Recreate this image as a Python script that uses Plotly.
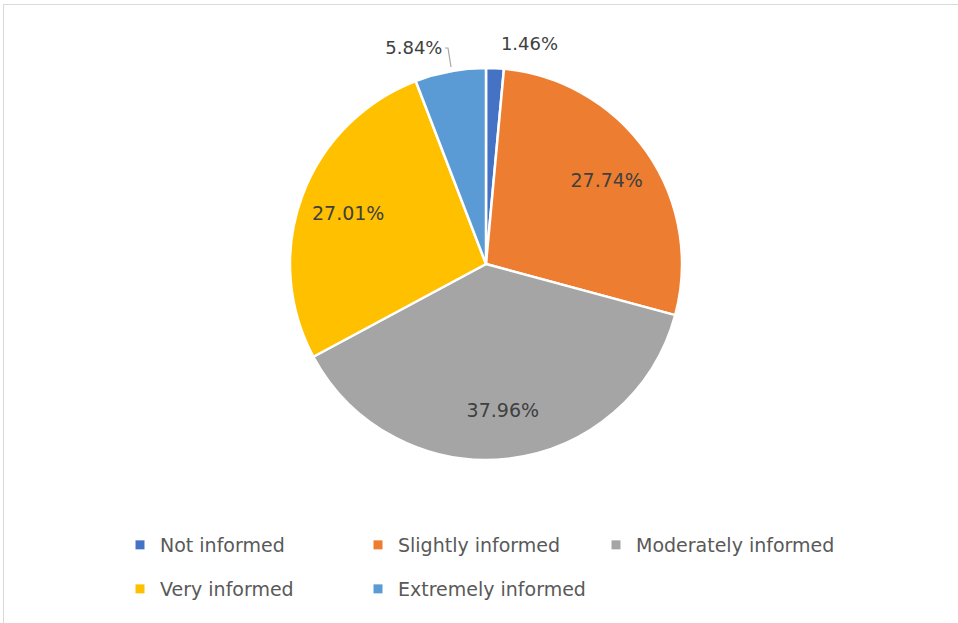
import plotly.graph_objects as go

categories = ["Not informed", "Slightly informed", "Moderately informed", "Very informed", "Extremely informed"]
values = [1.46, 27.74, 37.96, 27.01, 5.84]
colors = ["#4472C4", "#ED7D31", "#A5A5A5", "#FFC000", "#5B9BD5"]
inside_positions = ["none", "inside", "inside", "inside", "none"]
outside_positions = ["outside", "none", "none", "none", "outside"]
legend_rows = ["legend", "legend", "legend", "legend2", "legend2"]

W, H = 958, 623
ML, MR, MT, MB = 140, 100, 20, 120
PW, PH = W - ML - MR, H - MT - MB

def px_x(x):
    return (x - ML) / PW

def px_y(y):
    return 1 - (y - MT) / PH

CX, CY, R = 486, 264, 196
pie_domain = dict(x=[px_x(CX - R), px_x(CX + R)], y=[px_y(CY + R), px_y(CY - R)])
R2 = R + 14
label_domain = dict(x=[px_x(CX - R2), px_x(CX + R2)], y=[px_y(CY + R2), px_y(CY - R2)])

transparent = ["rgba(0,0,0,0)"] * len(values)
fig = go.Figure()

# transparent outer ring: places the outside labels of the thin slices
fig.add_trace(go.Pie(
    labels=categories, values=values, hole=0.9,
    marker=dict(colors=transparent, line=dict(width=0)),
    sort=False, direction="clockwise", rotation=0,
    texttemplate="%{value:.2f}%",
    textposition=outside_positions,
    outsidetextfont=dict(family="DejaVu Sans", size=18, color="#404040"),
    domain=label_domain, showlegend=False, hoverinfo="skip",
))

# filled pie
fig.add_trace(go.Pie(
    labels=categories, values=values,
    marker=dict(colors=colors, line=dict(color="white", width=2.5)),
    sort=False, direction="clockwise", rotation=0,
    textinfo="none",
    domain=pie_domain, showlegend=False,
    hoverinfo="label+percent",
))

# transparent ring: places inside labels at ~3/4 radius
fig.add_trace(go.Pie(
    labels=categories, values=values, hole=0.5,
    marker=dict(colors=transparent, line=dict(width=0)),
    sort=False, direction="clockwise", rotation=0,
    texttemplate="%{value:.2f}%",
    textposition=inside_positions,
    insidetextorientation="horizontal",
    insidetextfont=dict(family="DejaVu Sans", size=19, color="#404040"),
    domain=pie_domain, showlegend=False, hoverinfo="skip",
))

# legend entries
for name, col, lg in zip(categories, colors, legend_rows):
    fig.add_trace(go.Scatter(
        x=[None], y=[None], mode="markers", name=name,
        marker=dict(symbol="square", size=9, color=col),
        legend=lg, hoverinfo="skip",
    ))

legend_common = dict(
    orientation="h",
    xanchor="left",
    yanchor="middle",
    font=dict(family="DejaVu Sans", size=19, color="#595959"),
    entrywidth=193, entrywidthmode="pixels",
    itemwidth=30,
    bgcolor="rgba(0,0,0,0)",
    traceorder="normal",
)

fig.update_layout(
    width=W, height=H,
    margin=dict(l=ML, r=MR, t=MT, b=MB),
    paper_bgcolor="white",
    plot_bgcolor="white",
    xaxis=dict(visible=False),
    yaxis=dict(visible=False),
    showlegend=True,
    legend=dict(x=px_x(120), y=px_y(545), **legend_common),
    legend2=dict(x=px_x(120), y=px_y(589), **legend_common),
    shapes=[
        dict(type="line", xref="paper", yref="paper",
             x0=px_x(3.5), x1=px_x(3.5), y0=px_y(4.5), y1=px_y(640),
             line=dict(color="#D9D9D9", width=1)),
        dict(type="line", xref="paper", yref="paper",
             x0=px_x(3.5), x1=px_x(970), y0=px_y(4.5), y1=px_y(4.5),
             line=dict(color="#D9D9D9", width=1)),
        # leader line for the 5.84% label
        dict(type="path", xref="paper", yref="paper",
             path=f"M {px_x(445)} {px_y(48)} L {px_x(448)} {px_y(48)} L {px_x(451)} {px_y(67)}",
             line=dict(color="#A6A6A6", width=1.2)),
    ],
)

fig.write_html("out.html", config={"displayModeBar": False},
               post_script="document.body.style.margin='0';")
